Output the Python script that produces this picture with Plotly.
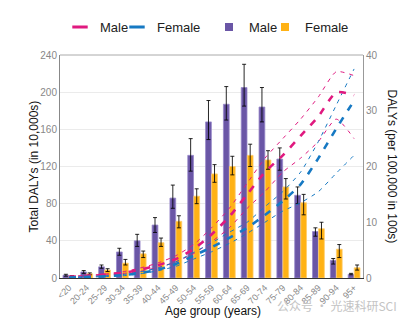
import plotly.graph_objects as go

# ---------------- data ----------------
age_groups = ["<20", "20-24", "25-29", "30-34", "35-39", "40-44", "45-49", "50-54",
              "55-59", "60-64", "65-69", "70-74", "75-79", "80-84", "85-89", "90-94", "95+"]

# Total DALYs (in 10,000s) with uncertainty bounds
male_total = [3, 6.5, 12, 28, 40, 57, 86, 132, 168, 187, 205, 184, 128, 89, 50, 19, 4]
male_total_lo = [2, 5, 10.5, 24.5, 34, 49, 75, 115, 149, 170, 185, 168, 116, 80, 45, 15, 3.5]
male_total_hi = [4, 8, 14, 32, 47, 65, 100, 150, 191, 206, 230, 205, 140, 98, 54, 21, 5]

female_total = [2, 4.5, 8.5, 16, 26, 38, 61, 88, 112, 120, 132, 127, 98, 81, 53, 31, 11]
female_total_lo = [1.5, 3.5, 7, 14, 22, 34, 54, 80, 103, 111, 120, 117, 85, 68, 42, 22, 8.5]
female_total_hi = [2.5, 5.5, 10, 20, 29, 43, 67, 96, 122, 131, 144, 137, 107, 90, 60, 36, 14]

# DALYs rate (per 100,000 in 100s) with uncertainty bounds
male_rate = [0.2, 0.4, 0.6, 0.9, 1.5, 2.3, 3.4, 5.2, 7.8, 11.0, 15.0, 19.0, 22.0, 25.5, 29.0, 33.3, 32.8]
male_rate_hi = [0.3, 0.5, 0.7, 1.1, 1.8, 2.7, 4.0, 6.0, 9.0, 12.5, 17.0, 21.5, 25.0, 28.5, 32.5, 37.0, 36.3]
male_rate_lo = [0.1, 0.3, 0.5, 0.8, 1.2, 1.9, 2.9, 4.4, 6.5, 9.0, 12.5, 15.5, 19.0, 21.5, 24.5, 28.5, 25.0]

female_rate = [0.1, 0.2, 0.3, 0.5, 0.9, 1.5, 2.5, 4.0, 5.5, 7.2, 9.0, 11.3, 13.8, 16.8, 21.5, 26.8, 31.8]
female_rate_hi = [0.15, 0.25, 0.4, 0.6, 1.1, 1.8, 2.9, 4.6, 6.3, 8.2, 10.0, 12.8, 15.5, 19.0, 24.5, 31.0, 37.5]
female_rate_lo = [0.05, 0.15, 0.25, 0.4, 0.75, 1.3, 2.1, 3.4, 4.7, 6.2, 8.0, 10.0, 12.0, 13.5, 15.5, 18.8, 22.0]

# ---------------- style ----------------
PURPLE = "#6A56A6"
ORANGE = "#FFB215"
PINK = "#E0197F"
BLUE = "#1679C3"
FONT = "Liberation Sans, Arial, sans-serif"

fig = go.Figure()

# legend-only entries
fig.add_trace(go.Scatter(x=[None], y=[None], mode="markers", name="Male", legendwidth=12,
                         marker=dict(symbol="line-ew", size=11, line=dict(color=PINK, width=3))))
fig.add_trace(go.Scatter(x=[None], y=[None], mode="markers", name="Female", legendwidth=47,
                         marker=dict(symbol="line-ew", size=11, line=dict(color=BLUE, width=3))))
fig.add_trace(go.Scatter(x=[None], y=[None], mode="markers", name="Male", legendwidth=11,
                         marker=dict(symbol="square", size=8, color=PURPLE)))
fig.add_trace(go.Scatter(x=[None], y=[None], mode="markers", name="Female", legendwidth=45,
                         marker=dict(symbol="square", size=8, color=ORANGE)))

# bars
def err(vals, lo, hi):
    return dict(type="data", symmetric=False,
                array=[h - v for v, h in zip(vals, hi)],
                arrayminus=[v - l for v, l in zip(vals, lo)],
                color="rgba(0,0,0,0.85)", thickness=1, width=2)

fig.add_trace(go.Bar(x=age_groups, y=male_total, name="Male", showlegend=False,
                     marker=dict(color=PURPLE, line=dict(color="rgba(150,135,200,0.8)", width=1)),
                     error_y=err(male_total, male_total_lo, male_total_hi)))
fig.add_trace(go.Bar(x=age_groups, y=female_total, name="Female", showlegend=False,
                     marker=dict(color=ORANGE, line=dict(color="rgba(255,205,110,0.8)", width=1)),
                     error_y=err(female_total, female_total_lo, female_total_hi)))

# rate lines on secondary axis
for vals, color, width, dash in [
    (male_rate_hi, PINK, 1, "4px,5px"),
    (male_rate_lo, PINK, 1, "4px,5px"),
    (female_rate_hi, BLUE, 1, "4px,5px"),
    (female_rate_lo, BLUE, 1, "4px,5px"),
    (male_rate, PINK, 2.6, "7px,8px"),
    (female_rate, BLUE, 2.6, "7px,8px"),
]:
    fig.add_trace(go.Scatter(x=age_groups, y=vals, yaxis="y2", mode="lines", showlegend=False,
                             line=dict(color=color, width=width, dash=dash, shape="spline", smoothing=0.6)))

fig.update_layout(
    width=404, height=322,
    margin=dict(l=60, r=41, t=52, b=44),
    paper_bgcolor="white", plot_bgcolor="white",
    font=dict(family=FONT, size=10, color="#777"),
    barmode="group", bargap=0.32, bargroupgap=0.05,
    showlegend=True,
    legend=dict(orientation="h", x=0.0, xanchor="left", y=1.125, yanchor="middle",
                font=dict(family=FONT, size=13, color="#222"),
                bgcolor="rgba(0,0,0,0)", tracegroupgap=0, itemsizing="trace"),
    xaxis=dict(type="category", tickangle=-45, tickfont=dict(size=9, color="#888"),
               showline=True, linecolor="#333", linewidth=1, ticks="", showgrid=False,
               zeroline=False),
    yaxis=dict(range=[0, 240], tickvals=[0, 40, 80, 120, 160, 200, 240],
               showgrid=True, gridcolor="#ebebeb", gridwidth=1,
               showline=True, linecolor="#888", linewidth=1, ticks="",
               tickfont=dict(size=10, color="#888"), zeroline=False),
    yaxis2=dict(range=[0, 40], tickvals=[0, 10, 20, 30, 40], overlaying="y", side="right",
                showgrid=False, showline=True, linecolor="#999", linewidth=1, ticks="",
                tickfont=dict(size=10, color="#888"), zeroline=False),
    shapes=[dict(type="line", xref="paper", yref="paper", x0=0, x1=1, y0=1, y1=1,
                 line=dict(color="#aaa", width=1))],
    annotations=[
        dict(text="Total DALYs (in 10,000s)", xref="paper", yref="paper", x=-0.089, y=0.5,
             textangle=-90, showarrow=False, xanchor="center", yanchor="middle",
             font=dict(family=FONT, size=12, color="#111")),
        dict(text="DALYs (per 100,000 in 100s)", xref="paper", yref="paper", x=1.099, y=0.5,
             textangle=90, showarrow=False, xanchor="center", yanchor="middle",
             font=dict(family=FONT, size=12, color="#111")),
        dict(text="Age group (years)", xref="paper", yref="paper", x=0.506, y=-0.15,
             showarrow=False, xanchor="center", yanchor="middle",
             font=dict(family=FONT, size=12, color="#111")),
        dict(text="公众号 · 光速科研SCI", xref="paper", yref="paper", x=0.71, y=-0.125,
             showarrow=False, xanchor="left", yanchor="middle",
             font=dict(family="Noto Sans CJK SC", size=12, color="#c4c4c4")),
    ],
)

fig.write_html("out.html")
